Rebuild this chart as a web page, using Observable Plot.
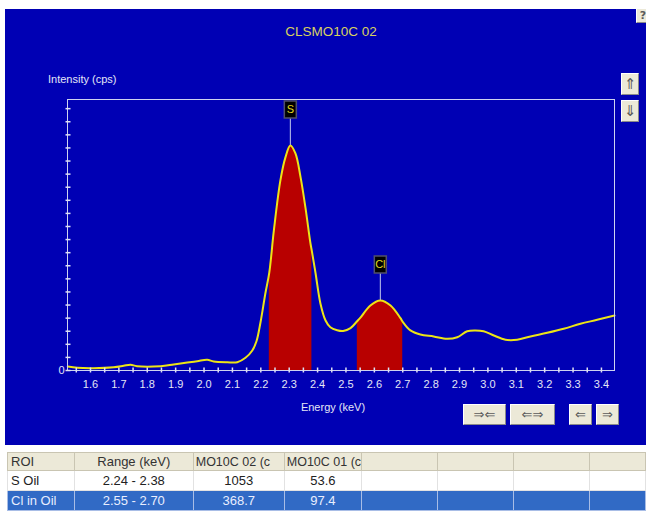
<!DOCTYPE html>
<html><head><meta charset="utf-8">
<script src="https://cdn.jsdelivr.net/npm/d3@7"></script>
<script src="https://cdn.jsdelivr.net/npm/@observablehq/plot@0.6"></script>
<style>
html,body{margin:0;padding:0;background:#fff;}
#wrap{position:relative;width:646px;height:511px;overflow:hidden;font-family:"Liberation Sans",Arial,sans-serif;}
#panel{position:absolute;left:5px;top:9px;width:641px;height:436px;background:#0000b4;}
#chart{position:absolute;left:0;top:0;}
#title{position:absolute;left:0;width:662px;text-align:center;top:24px;color:#d8d060;font-size:13.5px;}
.lbl{position:absolute;color:#e4e6f6;font-size:11px;white-space:nowrap;}
.btn{position:absolute;background:#ece9d8;border:1px solid #fff;border-right-color:#8a8a8a;border-bottom-color:#8a8a8a;box-sizing:border-box;color:#5a5a5a;font-family:"DejaVu Sans",sans-serif;font-size:13px;text-align:center;}
#roi{position:absolute;left:7px;top:452px;border-collapse:collapse;table-layout:fixed;font-size:13px;}
#roi th,#roi td{padding:0;overflow:hidden;white-space:nowrap;font-weight:normal;text-align:center;}
#roi th{height:17px;background:#ece9d8;border:1px solid #c9c5b2;color:#333;}
#roi td{height:19px;}
#roi tr.r1 td{background:#fff;border:1px solid #e2e2e2;color:#222;}
#roi tr.r2 td{background:#316ac5;border:1px solid #a8bde6;color:#e8eeff;}
#roi .first{text-align:left;padding-left:3px;}
#roi .lft{text-align:left;padding-left:2px;font-size:12.5px;}
</style>
</head><body>
<div id="wrap">
  <div id="panel"></div>
  <div id="chart"></div>
  <div id="title">CLSMO10C 02</div>
  <div class="lbl" style="left:48px;top:73px;">Intensity (cps)</div>
  <div class="lbl" style="left:0;width:666px;text-align:center;top:401px;">Energy (keV)</div>
  <div class="btn" style="left:463px;top:404px;width:43px;height:21px;line-height:19px;">⇒⇐</div>
  <div class="btn" style="left:510px;top:404px;width:45px;height:21px;line-height:19px;">⇐⇒</div>
  <div class="btn" style="left:569px;top:404px;width:23px;height:21px;line-height:19px;">⇐</div>
  <div class="btn" style="left:596px;top:404px;width:23px;height:21px;line-height:19px;">⇒</div>
  <div class="btn" style="left:621px;top:73px;width:18px;height:22px;line-height:20px;font-size:15px;">⇑</div>
  <div class="btn" style="left:621px;top:100px;width:18px;height:22px;line-height:20px;font-size:15px;">⇓</div>
  <div class="btn" style="left:636px;top:8px;width:14px;height:15px;line-height:13px;font-size:11px;font-weight:bold;">?</div>
  <table id="roi"></table>
</div>
<script>
// spectrum
const energy = [1.52, 1.553, 1.612, 1.682, 1.717, 1.741, 1.764, 1.847, 1.893, 1.941, 1.976, 2.011, 2.034, 2.082, 2.117, 2.146, 2.170, 2.185, 2.199, 2.216, 2.23, 2.246, 2.269, 2.287, 2.304, 2.322, 2.340, 2.357, 2.375, 2.38, 2.393, 2.410, 2.428, 2.445, 2.469, 2.49, 2.516, 2.54, 2.551, 2.586, 2.621, 2.657, 2.692, 2.70, 2.727, 2.762, 2.809, 2.856, 2.892, 2.927, 2.956, 2.985, 3.021, 3.062, 3.103, 3.150, 3.209, 3.267, 3.326, 3.385, 3.446];
const intensity = [31, 21, 18, 25, 36, 44, 33, 33, 46, 61, 71, 82, 69, 63, 63, 97, 153, 225, 369, 588, 750, 1070, 1452, 1630, 1719, 1658, 1477, 1248, 970, 910, 741, 512, 382, 331, 308, 302, 324, 378, 404, 497, 535, 497, 400, 372, 306, 275, 260, 242, 254, 300, 306, 300, 267, 235, 235, 260, 288, 319, 357, 387, 420];

// regions of interest
const roiName = ["S Oil", "Cl in Oil"];
const roiLo = [2.23, 2.54];
const roiHi = [2.38, 2.70];
const roiRangeText = ["2.24 - 2.38", "2.55 - 2.70"];
const roiSample02 = ["1053", "368.7"];
const roiSample01 = ["53.6", "97.4"];
const tableHeaders = ["ROI", "Range (keV)", "MO10C 02 (c", "MO10C 01 (c", "", "", "", ""];

// peak markers
const peakLabel = ["S", "Cl"];
const peakKeV = [2.304, 2.621];
const peakCps = [1719, 535];

// axes
const xDomain = [1.519, 3.446];
const yDomain = [0, 2070];
const xTickLabels = [1.6, 1.7, 1.8, 1.9, 2.0, 2.1, 2.2, 2.3, 2.4, 2.5, 2.6, 2.7, 2.8, 2.9, 3.0, 3.1, 3.2, 3.3, 3.4];
const xMinorStep = 0.05;
const yMinorStep = 100;
const yTickLabels = [0];

const spectrum = energy.map((e, i) => ({keV: e, cps: intensity[i]}));
const peaks = peakLabel.map((l, i) => ({label: l, keV: peakKeV[i], cps: peakCps[i]}));
const xMinor = d3.range(Math.round(1.55 / xMinorStep), Math.round(3.40 / xMinorStep) + 1).map(k => +(k * xMinorStep).toFixed(2));
const yMinor = d3.range(0, 2001, yMinorStep);

const vtick = {draw(ctx) { ctx.moveTo(0, -3); ctx.lineTo(0, 2); }};
const htick = {draw(ctx) { ctx.moveTo(-2, 0); ctx.lineTo(3, 0); }};
const box = {draw(ctx) { ctx.rect(-6, -8.5, 12, 17); }};

const roiMarks = roiLo.map((lo, i) =>
  Plot.areaY(spectrum.filter(d => d.keV >= lo - 1e-9 && d.keV <= roiHi[i] + 1e-9),
    {x: "keV", y: "cps", fill: "#b80000", curve: "monotone-x"}));

const chart = Plot.plot({
  width: 646, height: 445,
  marginLeft: 67, marginRight: 32, marginTop: 99, marginBottom: 75,
  style: {background: "transparent", color: "#e4e6f6", fontFamily: "Liberation Sans, Arial, sans-serif", fontSize: "11px", overflow: "visible"},
  x: {domain: xDomain, label: null},
  y: {domain: yDomain, label: null},
  marks: [
    ...roiMarks,
    Plot.line(spectrum, {x: "keV", y: "cps", stroke: "#ece416", strokeWidth: 2, curve: "catmull-rom"}),
    Plot.frame({stroke: "#cdd3f0"}),
    Plot.dot(xMinor, {x: d => d, y: () => 0, symbol: vtick, stroke: "#dde0f4", fill: "none"}),
    Plot.dot(yMinor, {x: () => xDomain[0], y: d => d, symbol: htick, stroke: "#dde0f4", fill: "none"}),
    Plot.axisX({ticks: xTickLabels, tickSize: 0, tickPadding: 10, tickFormat: d => d.toFixed(1), fill: "#e4e6f6"}),
    Plot.axisY({ticks: yTickLabels, tickSize: 0, tickPadding: 3, tickFormat: d => String(d), fill: "#e4e6f6"}),
    Plot.ruleX(peaks, {x: "keV", y1: "cps", y2: "cps", insetBottom: 28, stroke: "#c4cced"}),
    Plot.dot(peaks, {x: "keV", y: "cps", dy: -36, symbol: box, fill: "#000", stroke: "#50506a"}),
    Plot.text(peaks, {x: "keV", y: "cps", dy: -36, text: "label", fill: "#e0d820", fontSize: 11})
  ]
});
document.getElementById("chart").appendChild(chart);

// ROI table
const colW = [68, 122, 92, 77, 81, 81, 81, 60];
const tbl = document.getElementById("roi");
const cg = document.createElement("colgroup");
colW.forEach(w => { const c = document.createElement("col"); c.style.width = w + "px"; cg.appendChild(c); });
tbl.appendChild(cg);
const hr = document.createElement("tr");
tableHeaders.forEach((h, j) => {
  const th = document.createElement("th");
  th.className = j === 0 ? "first" : (j === 2 || j === 3) ? "lft" : "";
  th.textContent = h;
  hr.appendChild(th);
});
tbl.appendChild(hr);
roiName.forEach((n, i) => {
  const tr = document.createElement("tr");
  tr.className = i === 0 ? "r1" : "r2";
  [n, roiRangeText[i], roiSample02[i], roiSample01[i], "", "", "", ""].forEach((v, j) => {
    const td = document.createElement("td");
    if (j === 0) td.className = "first";
    td.textContent = v;
    tr.appendChild(td);
  });
  tbl.appendChild(tr);
});
</script>
</body></html>
